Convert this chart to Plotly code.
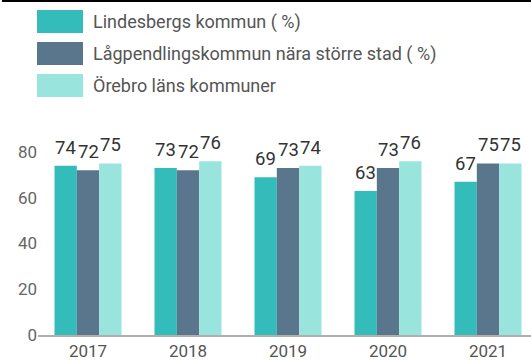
import plotly.graph_objects as go

years = ["2017", "2018", "2019", "2020", "2021"]
lindesberg = [74, 73, 69, 63, 67]
lagpendling = [72, 72, 73, 73, 75]
orebro = [75, 76, 74, 76, 75]

series_names = [
    "Lindesbergs kommun ( %)",
    "Lågpendlingskommun nära större stad ( %)",
    "Örebro läns kommuner",
]
series_values = [lindesberg, lagpendling, orebro]
colors = ["#34bcbb", "#5a768d", "#9ae4de"]

W, H = 531, 361
ML, MR, MT, MB = 38, 0, 120, 26
PW, PH = W - ML - MR, H - MT - MB
X_RANGE = [-0.5, 4.43]
BARGAP = 0.33


def px(x):
    return (x - ML) / PW


def py(y):
    return (H - MB - y) / PH


fig = go.Figure()
for name, vals, col in zip(series_names, series_values, colors):
    fig.add_trace(go.Bar(
        x=years, y=vals, name=name, marker=dict(color=col, line=dict(width=0)),
        cliponaxis=False, showlegend=False,
    ))

annotations = []
# value labels above each bar, offset horizontally to the bar's slot in the group
slot_px = PW / (X_RANGE[1] - X_RANGE[0]) * (1 - BARGAP) / len(series_values)
for j, vals in enumerate(series_values):
    for i, v in enumerate(vals):
        annotations.append(dict(
            x=i, y=v, xref="x", yref="y", text=str(v), showarrow=False,
            xanchor="center", yanchor="bottom", xshift=(j - 1) * slot_px, yshift=5,
            font=dict(family="Roboto", size=18.5, color="#333333")))

shapes = [
    # thin dark strip along the top edge
    dict(type="rect", xref="paper", yref="paper", x0=px(2), x1=px(531),
         y0=py(0), y1=py(2), fillcolor="#000000", line=dict(width=0)),
]
legend_rows = [(10, 33), (42, 65), (74, 97)]
for (y0, y1), name, col in zip(legend_rows, series_names, colors):
    shapes.append(dict(type="rect", xref="paper", yref="paper",
                       x0=px(37), x1=px(83), y0=py(y1), y1=py(y0),
                       fillcolor=col, line=dict(width=0)))
    annotations.append(dict(xref="paper", yref="paper", x=px(91), y=py((y0 + y1) / 2),
                            text=name, showarrow=False, xanchor="left", yanchor="middle",
                            font=dict(family="Roboto", size=18, color="#555555")))

fig.update_layout(
    width=W, height=H,
    margin=dict(l=ML, r=MR, t=MT, b=MB, pad=0),
    paper_bgcolor="white", plot_bgcolor="white",
    barmode="group", bargap=BARGAP, bargroupgap=0,
    font=dict(family="Roboto", color="#666666"),
    shapes=shapes, annotations=annotations,
    xaxis=dict(type="category", range=X_RANGE, showgrid=False, zeroline=False,
               showline=True, linecolor="#b0b0b0", linewidth=2,
               ticks="", tickfont=dict(size=17, color="#555555")),
    yaxis=dict(range=[0, 94], tickvals=[0, 20, 40, 60, 80], showgrid=False,
               zeroline=False, showline=False, ticks="",
               tickfont=dict(size=17, color="#666666")),
)

fig.write_html("out.html")
